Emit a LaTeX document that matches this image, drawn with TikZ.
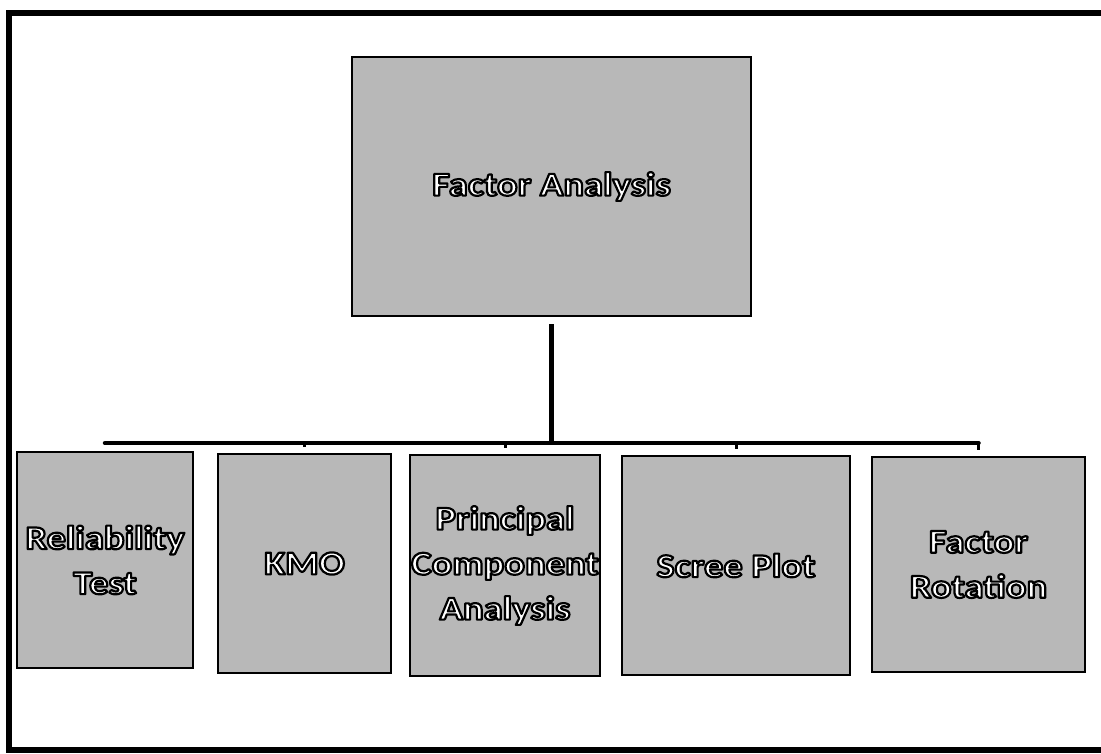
\documentclass[tikz,border=0pt]{standalone}
\usepackage{fontspec}
\setmainfont{Carlito}[FakeStretch=1.15]

% white lettering with a dark rim: fill the glyphs, then stroke their outline
\newcommand{\rim}[1]{%
  \special{pdf:literal direct 2 Tr 2.2 w 1 j 0 G}#1\special{pdf:literal direct 0 Tr}}

\begin{document}
\begin{tikzpicture}[x=1pt,y=-1pt,
  box/.style={draw=black, line width=2pt, fill=boxgray, rectangle,
              inner sep=0pt, align=center, text=white,
              font=\fontsize{33.5}{45}\selectfont\bfseries},
  conn/.style={draw=black, line width=4.5pt}]
  \definecolor{boxgray}{HTML}{B8B8B8}
  \useasboundingbox (0,0) rectangle (1101,753);
  \clip (0,0) rectangle (1101,753);
  \fill[white] (0,0) rectangle (1101,753);

  % page frame (its right side runs off the edge)
  \draw[line width=6pt] (1120,12.5) -- (8.5,12.5) -- (8.5,750) -- (1120,750);

  % root box
  \node[box, minimum width=399, minimum height=259] (fa) at (551.5,186.5)
    {\rim{Factor Analysis}};

  % child boxes
  \node[box, minimum width=176, minimum height=216] (b1) at (105,560)
    {\rim{Reliability}\\\rim{Test}};
  \node[box, minimum width=173, minimum height=219] (b2) at (304.5,563.5)
    {\rim{KMO}};
  \node[box, minimum width=190, minimum height=221] (b3) at (505,565.5)
    {\rim{Principal}\\\rim{Component}\\\rim{Analysis}};
  \node[box, minimum width=228, minimum height=219] (b4) at (736,565.5)
    {\rim{Scree Plot}};
  \node[box, minimum width=213, minimum height=215] (b5) at (978.5,564.5)
    {\rim{Factor}\\\rim{Rotation}};

  % bus connecting the root to the children
  \coordinate (bus) at (550,443);
  \draw[conn, shorten <=7pt] (fa.south) -- (fa.south |- bus);
  \draw[conn, line cap=round] (b1.north |- bus) -- (b5.north |- bus);
  \foreach \b in {b1,b2,b3,b4,b5}
    \draw[line width=3pt, shorten >=6pt] (\b.north |- bus) -- (\b.north);
\end{tikzpicture}
\end{document}
